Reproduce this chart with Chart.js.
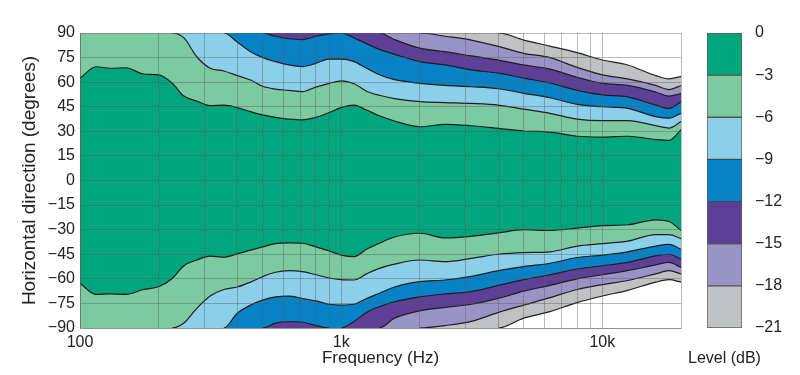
<!DOCTYPE html>
<html>
<head>
<meta charset="utf-8">
<script src="https://cdn.jsdelivr.net/npm/chart.js@4.4.1/dist/chart.umd.min.js"></script>
<style>
  html, body { margin: 0; padding: 0; background: #ffffff; }
  #wrap { position: relative; width: 800px; height: 375px; overflow: hidden; }
  #mainBox { position: absolute; left: 0; top: 0; width: 690px; height: 375px; }
  #barBox { position: absolute; left: 688px; top: 0; width: 112px; height: 375px; }
</style>
</head>
<body>
<div id="wrap">
  <div id="mainBox"><canvas id="main"></canvas></div>
  <div id="barBox"><canvas id="bar"></canvas></div>
</div>
<script>
// ---- Data ----
const freq = [100,115,130,150,175,200,225,250,280,315,355,400,450,500,560,630,710,800,900,1000,1120,1250,1400,1600,2000,2500,3150,4000,5000,6300,8000,10000,12500,16000,18000,20000];

// Upper contour boundaries (degrees) for -3 ... -21 dB
const up3  = [62.4,69.4,68.5,68.8,65,64.4,59.5,51.5,48.5,45.7,46,44.5,42,40,38.5,37.5,37,38.5,41.5,44.5,46,43,39.5,36.3,32.8,34.3,33.4,31.8,30.2,29.5,27,26.5,27,25,24.5,31];
const up6  = [90,90,90,90,90,90,90,87,75.5,68.5,66.8,64,61.3,57.5,55.8,55,54.2,57,59.3,60.8,59,54.5,52,50,48.1,47.5,47,46,43.5,41,37.5,36.5,36.5,33.5,32,36];
const up9  = [90,90,90,90,90,90,90,90,90,90,90,84.5,78.5,75,72.5,70.5,69.5,71.5,74,74,72.5,68.5,64.5,61.5,59.3,58,57.2,56,53.2,50.5,46.5,45,44,39,38,41];
const up12 = [90,90,90,90,90,90,90,90,90,90,90,90,90,90,88,86.5,86,88,89.5,90,87,83.5,80,77,72.5,70.5,67.5,65.5,62.5,59.5,55,52.2,51,46,44,48];
const up15 = [90,90,90,90,90,90,90,90,90,90,90,90,90,90,90,90,90,90,90,90,90,90,90,86,80.8,78.6,76,73.5,70.5,68,63,59.3,58,54,51.5,53];
const up18 = [90,90,90,90,90,90,90,90,90,90,90,90,90,90,90,90,90,90,90,90,90,90,90,90,90,88,85.7,81.8,77.6,75,69,64.5,62,58,55.5,58];
const up21 = [90,90,90,90,90,90,90,90,90,90,90,90,90,90,90,90,90,90,90,90,90,90,90,90,90,90,90,90,85.7,82,78,73.5,70.5,64,62,63.5];

// Lower contour boundaries (degrees)
const lo3  = [-62.7,-69.5,-69.2,-69.5,-66.5,-64.8,-60,-52,-48.5,-46.1,-46.8,-44.8,-42.5,-40.5,-38.5,-38,-38.3,-40.5,-43,-45.5,-46.5,-42,-38.3,-34.5,-32.2,-35,-34,-32,-30,-30.5,-29,-27.5,-27,-24,-25,-30.5];
const lo6  = [-90,-90,-90,-90,-90,-90,-90,-87,-78,-70.5,-66.5,-65,-62,-58.7,-56,-55,-55.6,-57.5,-59.5,-60.5,-60.7,-57,-53.6,-51,-48.5,-49.5,-47.5,-45,-44,-43.5,-40,-38.5,-37,-33,-33,-35.5];
const lo9  = [-90,-90,-90,-90,-90,-90,-90,-90,-90,-90,-90,-81,-76,-73,-71,-70.5,-72,-73.5,-75.5,-76,-75.5,-72,-68.8,-65,-61.7,-60.7,-58.5,-55,-52.5,-50.5,-47,-45.5,-43.5,-40,-39,-42];
const lo12 = [-90,-90,-90,-90,-90,-90,-90,-90,-90,-90,-90,-90,-90,-90,-87,-86.2,-86.5,-88.5,-90,-90,-86,-80.5,-77,-74,-71,-69.2,-67.8,-64,-60.5,-57.5,-54,-52,-50,-46,-45,-48];
const lo15 = [-90,-90,-90,-90,-90,-90,-90,-90,-90,-90,-90,-90,-90,-90,-90,-90,-90,-90,-90,-90,-90,-90,-90,-84,-79.5,-77.5,-75.5,-71.9,-67.5,-64,-60,-57.5,-55,-51.5,-50,-53];
const lo18 = [-90,-90,-90,-90,-90,-90,-90,-90,-90,-90,-90,-90,-90,-90,-90,-90,-90,-90,-90,-90,-90,-90,-90,-90,-90,-88.5,-86,-80.5,-76,-71.5,-66.5,-63.5,-61,-57,-55,-57];
const lo21 = [-90,-90,-90,-90,-90,-90,-90,-90,-90,-90,-90,-90,-90,-90,-90,-90,-90,-90,-90,-90,-90,-90,-90,-90,-90,-90,-90,-90,-84,-80,-74.5,-70.5,-67,-62,-60.5,-62];

// Tick values / labels
const xGridTicks = [100,200,300,400,500,600,700,800,900,1000,2000,3000,4000,5000,6000,7000,8000,9000,10000,20000];
const xLabels = {100: '100', 1000: '1k', 10000: '10k'};
const levelLabels = ['0','−3','−6','−9','−12','−15','−18','−21'];
const levelBands = [[-3,0],[-6,-3],[-9,-6],[-12,-9],[-15,-12],[-18,-15],[-21,-18]];

// Colours for level bands (0..-3, -3..-6, ...); outside -21 is white
const bandColors = ['#00a67b','#7cca9f','#8bcfea','#0683c6','#5d3f98','#9a93c6','#bfc1c3'];
const outsideColor = '#ffffff';

// ---- Build datasets (each boundary fills outward with the colour beyond it) ----
// index 0 is painted last, so the outermost boundaries come first
const layers = [
  {arr: up21, fill: 'end',   color: outsideColor},
  {arr: up18, fill: 'end',   color: bandColors[6]},
  {arr: up15, fill: 'end',   color: bandColors[5]},
  {arr: up12, fill: 'end',   color: bandColors[4]},
  {arr: up9,  fill: 'end',   color: bandColors[3]},
  {arr: up6,  fill: 'end',   color: bandColors[2]},
  {arr: up3,  fill: 'end',   color: bandColors[1]},
  {arr: lo21, fill: 'start', color: outsideColor},
  {arr: lo18, fill: 'start', color: bandColors[6]},
  {arr: lo15, fill: 'start', color: bandColors[5]},
  {arr: lo12, fill: 'start', color: bandColors[4]},
  {arr: lo9,  fill: 'start', color: bandColors[3]},
  {arr: lo6,  fill: 'start', color: bandColors[2]},
  {arr: lo3,  fill: 'start', color: bandColors[1]}
];

const lineCol = '#1e1e1e';
const datasets = layers.map(L => ({
  data: freq.map((f, k) => ({x: f, y: L.arr[k]})),
  borderColor: lineCol,
  borderWidth: 1.2,
  pointRadius: 0,
  cubicInterpolationMode: 'monotone',
  backgroundColor: L.color,
  fill: L.fill,
  segment: {
    borderColor: ctx => (Math.abs(ctx.p0.parsed.y) >= 90 && Math.abs(ctx.p1.parsed.y) >= 90) ? 'rgba(0,0,0,0)' : lineCol
  }
}));

// plot-area base colour (0 .. -3 dB)
const plotBackground = {
  id: 'plotBackground',
  beforeDraw(chart) {
    const {ctx, chartArea: a} = chart;
    ctx.save();
    ctx.fillStyle = bandColors[0];
    ctx.fillRect(a.left, a.top, a.right - a.left, a.bottom - a.top);
    ctx.restore();
  }
};

const FONT = "'Liberation Sans', Arial, Helvetica, sans-serif";
const gridCol = 'rgba(90,90,90,0.42)';

new Chart(document.getElementById('main'), {
  type: 'line',
  data: { datasets },
  plugins: [plotBackground],
  options: {
    responsive: true,
    maintainAspectRatio: false,
    animation: false,
    events: [],
    layout: { padding: { top: 33, right: 9, left: 0, bottom: 0 } },
    plugins: {
      legend: { display: false },
      tooltip: { enabled: false },
      filler: { drawTime: 'beforeDatasetsDraw' }
    },
    scales: {
      x: {
        type: 'logarithmic',
        min: 100, max: 20000,
        afterBuildTicks: s => { s.ticks = xGridTicks.map(v => ({value: v})); },
        afterFit: s => { s.height = 47; },
        grid: { color: gridCol, lineWidth: 1, drawTicks: false, z: 1 },
        border: { color: gridCol, z: 1 },
        ticks: {
          autoSkip: false, maxRotation: 0, padding: 5,
          color: '#222', font: { family: FONT, size: 16 },
          callback: v => xLabels[v] || ''
        },
        title: {
          display: true, text: 'Frequency (Hz)', color: '#222',
          font: { family: FONT, size: 17 }, padding: { top: 0, bottom: 6 }
        }
      },
      y: {
        type: 'linear',
        min: -90, max: 90,
        afterFit: s => { s.width = 80; },
        grid: { color: gridCol, lineWidth: 1, drawTicks: false, z: 1 },
        border: { color: gridCol, z: 1 },
        ticks: {
          stepSize: 15, padding: 5,
          color: '#222', font: { family: FONT, size: 16 },
          callback: v => String(v).replace('-', '−')
        },
        title: {
          display: true, text: 'Horizontal direction (degrees)', color: '#222',
          font: { family: FONT, size: 19 }, padding: { top: 18, bottom: 0 }
        }
      }
    }
  }
});

// ---- Colour bar ----
new Chart(document.getElementById('bar'), {
  type: 'bar',
  data: {
    labels: ['level'],
    datasets: levelBands.map((b, i) => ({
      data: [b],
      yAxisID: 'y',
      backgroundColor: bandColors[i],
      borderColor: 'rgba(40,40,40,0.75)',
      borderWidth: 1,
      borderSkipped: false,
      grouped: false,
      barPercentage: 1,
      categoryPercentage: 1
    }))
  },
  options: {
    responsive: true,
    maintainAspectRatio: false,
    animation: false,
    events: [],
    layout: { padding: { top: 33, left: 0, right: 0, bottom: 0 } },
    plugins: {
      legend: { display: false },
      tooltip: { enabled: false },
      title: {
        display: true, position: 'bottom', align: 'start',
        text: 'Level (dB)', color: '#222',
        font: { family: FONT, size: 16, weight: 'normal' },
        padding: { top: 20.8, bottom: 7 }
      }
    },
    scales: {
      x: { display: false },
      yL: {
        type: 'linear', position: 'left', display: true,
        afterFit: s => { s.width = 19; },
        grid: { display: false }, border: { display: false },
        ticks: { display: false }
      },
      y: {
        position: 'right',
        min: -21, max: 0,
        afterFit: s => { s.width = 58; },
        afterBuildTicks: s => { s.ticks = levelBands.map(b => ({value: b[1]})).concat([{value: -21}]); },
        grid: { display: false },
        border: { display: false },
        ticks: {
          padding: 5, color: '#222', font: { family: FONT, size: 16 },
          callback: v => levelLabels[Math.round(-v / 3)]
        }
      }
    }
  }
});
</script>
</body>
</html>
